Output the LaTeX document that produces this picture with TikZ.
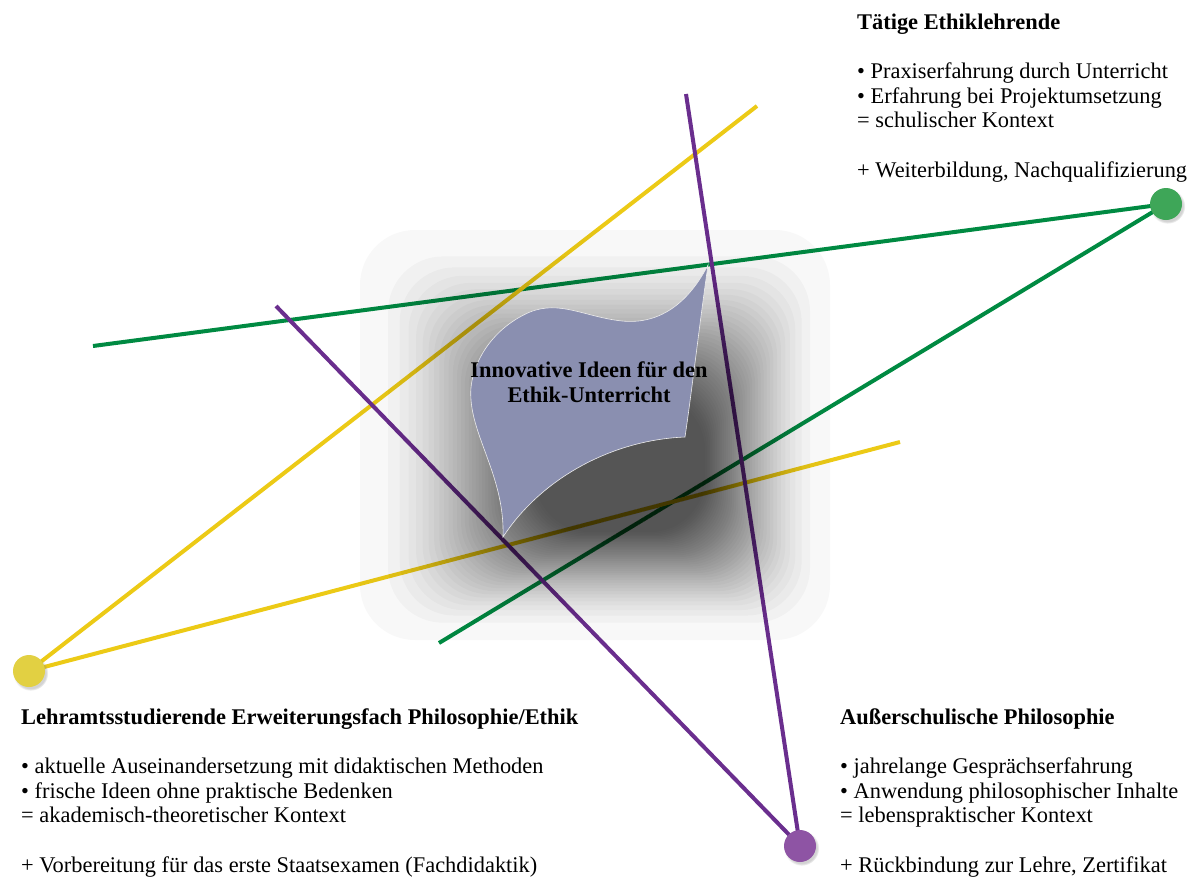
\documentclass[tikz,border=0pt]{standalone}
\usepackage{fontspec}
\setmainfont{Liberation Serif}
\usetikzlibrary{shadows}

\definecolor{linegreen}{RGB}{0,138,66}
\definecolor{dotgreen}{RGB}{62,166,88}
\definecolor{lineyellow}{RGB}{236,202,22}
\definecolor{dotyellow}{RGB}{226,208,66}
\definecolor{linepurple}{RGB}{106,46,142}
\definecolor{dotpurple}{RGB}{142,84,164}
\definecolor{ideablue}{RGB}{138,143,176}

\tikzset{
  info/.style={align=left, inner sep=0pt, anchor=base west,
    font=\fontsize{22.4}{24.5}\selectfont},
  dot/.style={circle, minimum size=32pt, inner sep=0pt,
    circular drop shadow={shadow xshift=1.5pt, shadow yshift=-2pt, opacity=.35}},
  band/.style={line width=4pt}
}

\begin{document}
\begin{tikzpicture}[x=1pt, y=-1pt]
  \useasboundingbox (0,0) rectangle (1193,876);

  \coordinate (teach-a) at (93,346);
  \coordinate (teach-b) at (439,643);
  \coordinate (study-a) at (757,106);
  \coordinate (study-b) at (900,442);
  \coordinate (extra-a) at (686,94);
  \coordinate (extra-b) at (276,306);
  \coordinate (teach-c) at (1166,204);
  \coordinate (study-c) at (29,671);
  \coordinate (extra-c) at (800,846);

  \begin{scope}[every edge/.style={draw, band}]
    \path (teach-c) edge[linegreen]  (teach-a);
    \path (teach-c) edge[linegreen]  (teach-b);
    \path (study-c) edge[lineyellow] (study-a);
    \path (study-c) edge[lineyellow] (study-b);
    \path (extra-c) edge[linepurple] (extra-a);
    \path (extra-c) edge[linepurple] (extra-b);
  \end{scope}

  \begin{scope}[every node/.style={dot}]
    \node[fill=dotgreen]  (teach) at (teach-c) {};
    \node[fill=dotyellow] (study) at (study-c) {};
    \node[fill=dotpurple] (extra) at (extra-c) {};
  \end{scope}

  \foreach \i [evaluate=\i as \s using sqrt(\i/39),
               evaluate=\i as \xa using 360+175*\s,
               evaluate=\i as \ya using 230+165*\s,
               evaluate=\i as \xb using 830-125*\s,
               evaluate=\i as \yb using 640-108*\s] in {0,...,39}
    \fill[black, opacity=.028, rounded corners=55pt] (\xa,\ya) rectangle (\xb,\yb);

  \filldraw[fill=ideablue, draw=white!85!gray, line width=.6pt]
    (708,265) .. controls (690,300) and (662,325) .. (622,321)
    .. controls (585,317) and (560,300) .. (530,312)
    .. controls (488,330) and (468,370) .. (471,400)
    .. controls (474,440) and (505,480) .. (503,537)
    .. controls (540,480) and (610,440) .. (685,437)
    .. controls (692,390) and (700,320) .. (708,265) -- cycle;

  \node[align=center, inner sep=0pt, anchor=base,
    font=\fontsize{22.4}{25}\selectfont\bfseries] (idea) at (589,402)
    {Innovative Ideen für den\\Ethik-Unterricht};

  \node[info] (teach-text) at (857,177)
    {\textbf{Tätige Ethiklehrende}\\[25pt]
     \textbullet\ Praxiserfahrung durch Unterricht\\
     \textbullet\ Erfahrung bei Projektumsetzung\\
     = schulischer Kontext\\[25pt]
     + Weiterbildung, Nachqualifizierung};

  \node[info] (study-text) at (21,872)
    {\textbf{Lehramtsstudierende Erweiterungsfach Philosophie/Ethik}\\[25pt]
     \textbullet\ aktuelle Auseinandersetzung mit didaktischen Methoden\\
     \textbullet\ frische Ideen ohne praktische Bedenken\\
     = akademisch-theoretischer Kontext\\[25pt]
     + Vorbereitung für das erste Staatsexamen (Fachdidaktik)};

  \node[info] (extra-text) at (840,872)
    {\textbf{Außerschulische Philosophie}\\[25pt]
     \textbullet\ jahrelange Gesprächserfahrung\\
     \textbullet\ Anwendung philosophischer Inhalte\\
     = lebenspraktischer Kontext\\[25pt]
     + Rückbindung zur Lehre, Zertifikat};
\end{tikzpicture}
\end{document}
